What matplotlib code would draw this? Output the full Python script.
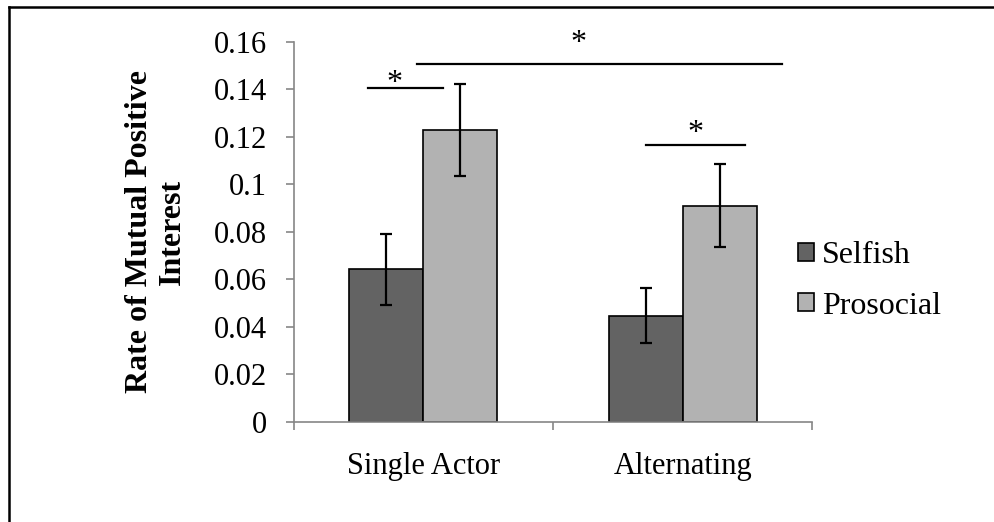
import matplotlib
matplotlib.use("Agg")
import matplotlib.pyplot as plt
from matplotlib.lines import Line2D
from matplotlib.patches import Patch
import numpy as np

categories = ["Single Actor", "Alternating"]
series = ["Selfish", "Prosocial"]
selfish = [0.0641, 0.0446]
prosocial = [0.1228, 0.0910]
selfish_err = [0.0148, 0.0115]
prosocial_err = [0.0192, 0.0174]
yticks = [0, 0.02, 0.04, 0.06, 0.08, 0.1, 0.12, 0.14, 0.16]
ytick_labels = ["0", "0.02", "0.04", "0.06", "0.08", "0.1", "0.12", "0.14", "0.16"]
# significance brackets: (x_start, x_end, y) and star (x, y) in data units
sig_brackets = [(0.287, 0.576, 0.1404, 0.39, 0.1451),
                (0.476, 1.884, 0.1506, 1.097, 0.1620),
                (1.357, 1.739, 0.1163, 1.549, 0.1241)]

plt.rcParams['font.family'] = ['Liberation Serif', 'DejaVu Serif']

fig = plt.figure(figsize=(9.94, 5.22), dpi=100)
ax = fig.add_axes([0.2953, 0.1921, 0.8174 - 0.2953, 0.9201 - 0.1921])

x = np.arange(len(categories)) + 0.5
w = 0.286
c_dark = "#636363"
c_light = "#b2b2b2"
ax.bar(x - w / 2, selfish, w, color=c_dark, edgecolor="black", linewidth=1.2, zorder=2)
ax.bar(x + w / 2, prosocial, w, color=c_light, edgecolor="black", linewidth=1.2, zorder=2)
ax.errorbar(x - w / 2, selfish, yerr=selfish_err, fmt="none", ecolor="black",
            elinewidth=1.6, capsize=4, capthick=1.6, zorder=3)
ax.errorbar(x + w / 2, prosocial, yerr=prosocial_err, fmt="none", ecolor="black",
            elinewidth=1.6, capsize=4, capthick=1.6, zorder=3)

for x1, x2, y, xs, ys in sig_brackets:
    ax.plot([x1, x2], [y, y], color="black", lw=1.6, clip_on=False, zorder=3)
    ax.annotate("*", (xs, ys), xytext=(0, -15), textcoords="offset points",
                ha="center", va="bottom", fontsize=23, annotation_clip=False)

ax.set_xlim(0, 2)
ax.set_ylim(0, 0.16)
ax.set_yticks(yticks)
ax.set_yticklabels(ytick_labels)
ax.set_xticks([0, 1, 2])
ax.set_xticklabels([])
ax.set_xticks(x, minor=True)
ax.set_xticklabels(categories, minor=True)
ax.tick_params(axis="x", which="minor", length=0, pad=22, labelsize=22)
ax.tick_params(axis="x", which="major", direction="out", length=6, width=1.2, color="#868686")
ax.tick_params(axis="y", direction="out", length=6, width=1.2, color="#868686", labelsize=22, pad=13)

for s in ["top", "right"]:
    ax.spines[s].set_visible(False)
for s in ["left", "bottom"]:
    ax.spines[s].set_color("#868686")
    ax.spines[s].set_linewidth(1.2)

ax.set_ylabel("Rate of Mutual Positive\nInterest", fontsize=23, fontweight="bold",
              linespacing=1.15, va="center", ha="center")
ax.yaxis.set_label_coords(-0.265, 0.5)

handles = [Patch(facecolor=c_dark, edgecolor="black", linewidth=1.2),
           Patch(facecolor=c_light, edgecolor="black", linewidth=1.2)]
fig.legend(handles, series, loc="center left", bbox_to_anchor=(0.803, 0.462), frameon=False,
           fontsize=23, handlelength=0.5, handleheight=0.5, handletextpad=0.25, labelspacing=0.67,
           borderaxespad=0, borderpad=0)

# outer border (top and left visible)
fig.add_artist(Line2D([9 / 994, 9 / 994], [0, 1 - 7 / 522], transform=fig.transFigure,
                      color="black", lw=1.8))
fig.add_artist(Line2D([9 / 994, 1], [1 - 7 / 522, 1 - 7 / 522], transform=fig.transFigure,
                      color="black", lw=1.8))

fig.savefig("out.png", dpi=100)
